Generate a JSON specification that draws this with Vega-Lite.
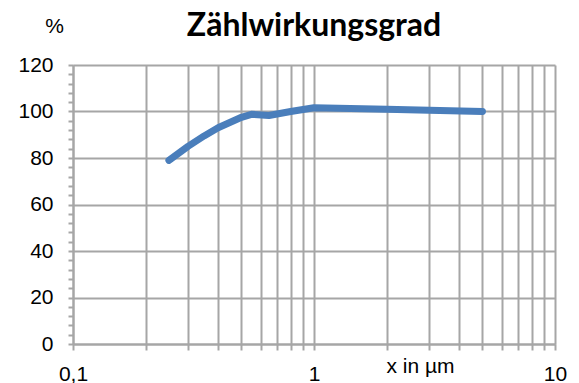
{
  "$schema": "https://vega.github.io/schema/vega-lite/v6.json",
  "width": 482,
  "height": 279,
  "autosize": "none",
  "padding": {"left": 73, "top": 65, "right": 24, "bottom": 39},
  "background": "white",
  "config": {"view": {"stroke": null}, "font": "Liberation Sans"},
  "title": {"text": "Zählwirkungsgrad", "font": "Lato", "fontWeight": "bold", "fontSize": 32, "anchor": "middle", "frame": "group", "color": "black", "offset": -28},
  "data": {"values": [
    {"x": 0.25, "y": 79},
    {"x": 0.3, "y": 85},
    {"x": 0.35, "y": 89.5},
    {"x": 0.4, "y": 93},
    {"x": 0.5, "y": 97.5},
    {"x": 0.55, "y": 98.8},
    {"x": 0.65, "y": 98.3},
    {"x": 0.8, "y": 100},
    {"x": 1, "y": 101.6},
    {"x": 2, "y": 101},
    {"x": 3, "y": 100.5},
    {"x": 5, "y": 100}
  ]},
  "mark": {"type": "line", "color": "#4a7ebb", "strokeWidth": 7, "strokeCap": "round", "strokeJoin": "round"},
  "encoding": {
    "x": {"field": "x", "type": "quantitative", "scale": {"type": "log", "domain": [0.1, 10]},
      "axis": {"values": [0.1,0.2,0.3,0.4,0.5,0.6,0.7,0.8,0.9,1,2,3,4,5,6,7,8,9,10],
        "labelExpr": "datum.value == 0.1 ? '0,1' : (datum.value == 1 ? '1' : (datum.value == 10 ? '10' : ''))",
        "grid": true, "gridColor": "#a6a6a6", "gridWidth": 2,
        "domainColor": "#a6a6a6", "domainWidth": 2, "tickColor": "#a6a6a6", "tickWidth": 2, "tickSize": 6,
        "labelFontSize": 21, "labelColor": "black", "labelPadding": 13, "labelFlush": false, "labelOverlap": false, "labelBound": false,
        "title": "x in µm", "titleFontSize": 21, "titleFontWeight": "normal", "titleColor": "black",
        "titleX": 347, "titleY": 28, "titleAlign": "center", "titleBaseline": "alphabetic"}},
    "y": {"field": "y", "type": "quantitative", "scale": {"domain": [0, 120]},
      "axis": {"values": [0,4,8,12,16,20,24,28,32,36,40,44,48,52,56,60,64,68,72,76,80,84,88,92,96,100,104,108,112,116,120],
        "labelExpr": "datum.value % 20 == 0 ? datum.label : ''",
        "grid": true, "gridColor": "#a6a6a6", "gridWidth": 2,
        "gridOpacity": {"condition": {"test": "datum.value % 20 == 0", "value": 1}, "value": 0},
        "domainColor": "#a6a6a6", "domainWidth": 2, "tickColor": "#a6a6a6", "tickWidth": 2, "tickSize": 5,
        "labelFontSize": 21, "labelColor": "black", "labelPadding": 15, "labelAlign": "right", "labelOverlap": false, "labelBound": false,
        "title": "%", "titleFontSize": 21, "titleFontWeight": "normal", "titleColor": "black", "titleAngle": 0,
        "titleX": -19, "titleY": -39, "titleAlign": "center", "titleBaseline": "middle"}}
  }
}
